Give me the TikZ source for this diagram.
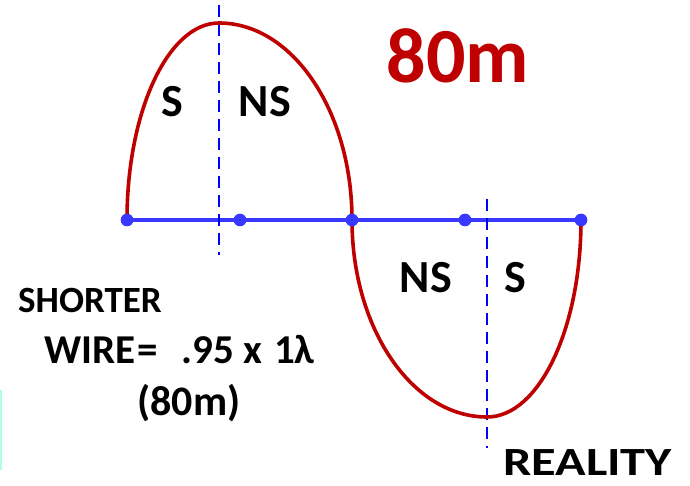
\documentclass[tikz,border=0pt]{standalone}
\usepackage{fontspec}
\setmainfont{Carlito}
\begin{document}
\begin{tikzpicture}[x=1pt,y=1pt,
  wave/.style={draw=red!75!black,line width=3.6pt},
  wire/.style={draw=blue!78!white,line width=3.6pt},
  dot/.style={circle,fill=blue!78!white,inner sep=0pt,minimum size=12.5pt},
  mid/.style={draw=blue,line width=2.4pt,dash pattern=on 12pt off 7pt},
  lbl/.style={font=\bfseries\fontsize{46}{50}\selectfont,inner sep=0pt,anchor=base},
  note/.style={font=\bfseries\fontsize{40}{44}\selectfont,inner sep=0pt,anchor=base}]
\useasboundingbox (0,0) rectangle (690,485);
% dots on wire
\node[dot] (d1) at (127,265) {};
\node[dot] (d2) at (240,265) {};
\node[dot] (d3) at (352,265) {};
\node[dot] (d4) at (465,265) {};
\node[dot] (d5) at (581,265) {};
\draw[wire] (d1.center) -- (d5.center);
% dashed centre lines
\coordinate (m1t) at (219,480);
\coordinate (m1b) at (219,230);
\coordinate (m2t) at (487,286);
\coordinate (m2b) at (487,37);
\draw[mid] (m1t) -- (m1b);
\draw[mid] (m2t) -- (m2b);
% standing wave
\draw[wave] (d1.center) arc[start angle=180,end angle=90,x radius=92pt,y radius=197pt]
  arc[start angle=90,end angle=0,x radius=133pt,y radius=197pt]
  arc[start angle=180,end angle=270,x radius=135pt,y radius=197pt]
  arc[start angle=270,end angle=360,x radius=94pt,y radius=197pt];
\foreach \n in {d1,d2,d3,d4,d5}{\node[dot] at (\n) {};}
% labels
\node[lbl] (s1) at (172,368) {S};
\node[lbl] (ns1) at (265,368) {NS};
\node[lbl] (ns2) at (426,193) {NS};
\node[lbl] (s2) at (515,193) {S};
\node[font=\bfseries\fontsize{78}{82}\selectfont,text=red!75!black,inner sep=0pt,anchor=base] (t80) at (458,402) {80m};
\node[note,anchor=base west,xscale=1.26] (real) at (503,10) {REALITY};
\node[note,font=\bfseries\fontsize{37}{40}\selectfont,anchor=base west] (sh) at (18,173) {SHORTER};
\node[note,anchor=base west,font=\bfseries\fontsize{41}{44}\selectfont] (wire) at (44,122) {WIRE\kern2pt=\hspace{24pt}.95\hspace{9pt}x\hspace{12pt}1λ};
\node[note,font=\bfseries\fontsize{42}{46}\selectfont] (m80) at (189,70) {(80m)};
% left edge mark
\coordinate (g1) at (1,95);
\coordinate (g2) at (1,15);
\draw[green!40!cyan!30!white,line width=1.5pt] (g1) -- (g2);
\end{tikzpicture}
\end{document}
